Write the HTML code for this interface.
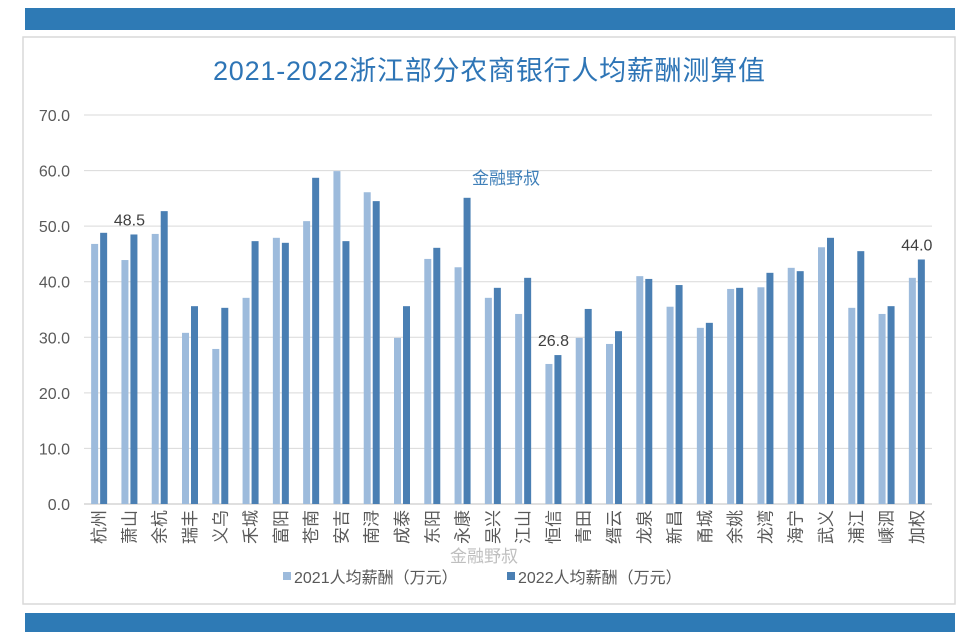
<!DOCTYPE html>
<html><head><meta charset="utf-8"><style>
body{margin:0;background:#fff;}
svg text{font-family:"Liberation Sans","Noto Sans CJK SC",sans-serif;}
</style></head><body>
<svg id="c" width="979" height="635" xmlns="http://www.w3.org/2000/svg">
<rect x="25" y="8" width="930" height="22" fill="#2e7ab5"/>
<rect x="23" y="37" width="932" height="567" fill="#fff" stroke="#d9d9d9" stroke-width="1.5"/>
<rect x="25" y="613" width="930" height="19" fill="#2e7ab5"/>
<text x="489" y="80" text-anchor="middle" font-size="27" fill="#2e75b6" textLength="552">2021-2022浙江部分农商银行人均薪酬测算值</text>
<g id="grid"></g><g id="bars"></g><g id="labels"></g>
<text x="472" y="184" font-size="17" fill="#3f7fb8">金融野叔</text>
<text x="450" y="562" font-size="17" fill="#bfbfbf">金融野叔</text>
<g>
<rect x="283" y="572" width="8" height="8" fill="#9dbbdc"/>
<text x="294" y="583" font-size="16" fill="#595959">2021人均薪酬（万元）</text>
<rect x="507" y="572" width="8" height="8" fill="#4a7fb3"/>
<text x="518" y="583" font-size="16" fill="#595959">2022人均薪酬（万元）</text>
</g>
</svg>
<script>
const categories=["杭州","萧山","余杭","瑞丰","义乌","禾城","富阳","苍南","安吉","南浔","成泰","东阳","永康","吴兴","江山","恒信","青田","缙云","龙泉","新昌","甬城","余姚","龙湾","海宁","武义","浦江","嵊泗","加权"];
const values2021=[46.8,43.9,48.6,30.8,27.9,37.1,47.9,50.9,59.9,56.1,29.9,44.1,42.6,37.1,34.2,25.2,29.9,28.8,41.0,35.5,31.7,38.7,39.0,42.5,46.2,35.3,34.2,40.7];
const values2022=[48.8,48.5,52.7,35.6,35.3,47.3,47.0,58.7,47.3,54.5,35.6,46.1,55.1,38.9,40.7,26.8,35.1,31.1,40.5,39.4,32.6,38.9,41.6,41.9,47.9,45.5,35.6,44.0];
const yTicks=[0,10,20,30,40,50,60,70];
const labeledIdx=[1,15,27];
const NS="http://www.w3.org/2000/svg";
const x0=84,x1=932,y0=504,y1=115,yMax=70;
const band=(x1-x0)/categories.length;
const y=v=>y0-(v/yMax)*(y0-y1);
function mk(t,a,p){const e=document.createElementNS(NS,t);for(const k in a)e.setAttribute(k,a[k]);p.appendChild(e);return e;}
const grid=document.getElementById('grid'),bars=document.getElementById('bars'),labels=document.getElementById('labels');
yTicks.forEach(v=>{
  const l=mk('line',{x1:x0,x2:x1,y1:y(v),y2:y(v),stroke:v===0?'#bfbfbf':'#d9d9d9','stroke-width':1},grid);
  
  
  const t=mk('text',{x:70,y:y(v)+6,'text-anchor':'end','font-size':16,fill:'#595959'},grid);
  t.textContent=v.toFixed(1);
  
  
});
categories.forEach((c,i)=>{
  const cx=x0+band*(i+0.5);
  const b1=mk('rect',{x:cx-8,y:y(values2021[i]),width:7,height:y0-y(values2021[i]),fill:'#9dbbdc'},bars);
  
  
  const b2=mk('rect',{x:cx+1,y:y(values2022[i]),width:7,height:y0-y(values2022[i]),fill:'#4a7fb3'},bars);
  
  
  const t=mk('text',{x:0,y:0,'text-anchor':'end','font-size':17,fill:'#595959',transform:`translate(${cx+6},510) rotate(-90)`},labels);
  t.textContent=c;
  
  
  if(labeledIdx.includes(i)){
    const d=mk('text',{x:cx,y:y(values2022[i])-9,'text-anchor':'middle','font-size':16,fill:'#404040'},labels);
    d.textContent=values2022[i].toFixed(1);
    
    
  }
});
</script>
</body></html>
